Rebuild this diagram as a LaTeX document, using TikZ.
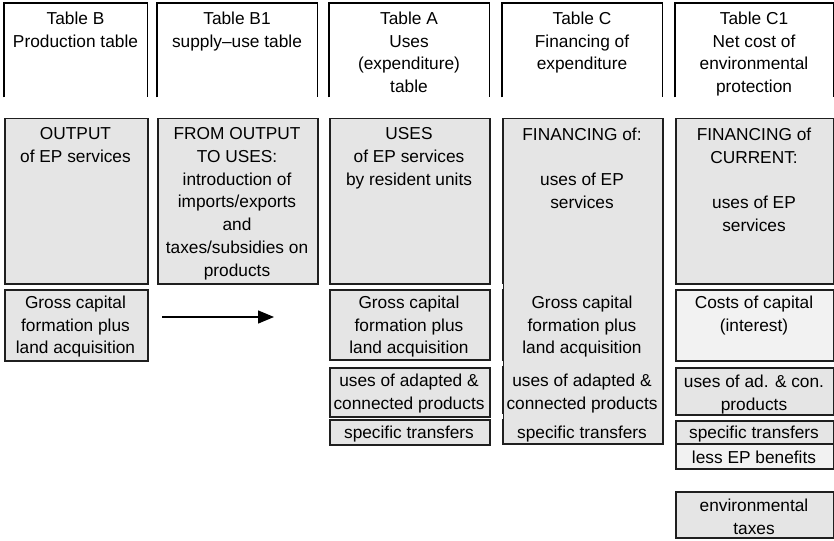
\documentclass[tikz,border=0pt]{standalone}
\usepackage{fontspec}
\setmainfont{Liberation Sans}
\usetikzlibrary{arrows.meta}
\definecolor{boxgrey}{gray}{0.9}
\definecolor{boxlight}{gray}{0.95}
\definecolor{edge}{gray}{0.12}
\begin{document}
\begin{tikzpicture}[x=1pt,y=-1pt,
  txt/.style={inner sep=0pt, anchor=north, align=center,
    font=\fontsize{17.3}{22.7}\selectfont, execute at begin node=\strut},
  hbox/.style={inner sep=0pt, anchor=north west, draw=none},
  hdr/.style={draw=black, line width=1.6pt},
  gbox/.style={inner sep=0pt, anchor=north west, draw=edge, line width=1.5pt, fill=boxgrey},
  lbox/.style={gbox, fill=boxlight},
  flow/.style={-{Triangle[length=16pt,width=13pt]}, line width=1.4pt, draw=black}]
\useasboundingbox (0,0) rectangle (834,540);

% header boxes (open at bottom)
\node[hbox, minimum width=143pt, minimum height=94pt] (h1) at (4,3) {};
\node[hbox, minimum width=160pt, minimum height=94pt] (h2) at (157,3) {};
\node[hbox, minimum width=160pt, minimum height=94pt] (h3) at (329,3) {};
\node[hbox, minimum width=160pt, minimum height=94pt] (h4) at (502,3) {};
\node[hbox, minimum width=158pt, minimum height=94pt] (h5) at (675,3) {};
\foreach \h in {h1,h2,h3,h4,h5}
  \draw[hdr] (\h.south west) |- (\h.north east) -- (\h.south east);

\node[txt] (th1) at (75.5,11.6) {Table B\\Production table};
\node[txt] (th2) at (237,11.6) {Table B1\\supply–use table};
\node[txt] (th3) at (409,11.6) {Table A\\Uses\\(expenditure)\\table};
\node[txt] (th4) at (582,11.6) {Table C\\Financing of\\expenditure};
\node[txt] (th5) at (754,11.6) {Table C1\\Net cost of\\environmental\\protection};

% main boxes
\node[gbox, minimum width=143pt, minimum height=165pt] (m1) at (4,118) {};
\node[gbox, minimum width=160pt, minimum height=165pt] (m2) at (157,118) {};
\node[gbox, minimum width=160pt, minimum height=165pt] (m3) at (329,118) {};
\node[gbox, minimum width=160pt, minimum height=325pt] (m4) at (502,118) {};
\node[gbox, minimum width=158pt, minimum height=165pt] (m5) at (675,118) {};
% small breaks in the left edge of the tall financing box
\draw[white, line width=2.2pt] (502,284) -- (502,289);
\draw[white, line width=2.2pt] (502,361) -- (502,366);
\draw[white, line width=2.2pt] (502,414) -- (502,419);

\node[txt] (tm1) at (75.5,127.6) {OUTPUT\\of EP services};
\node[txt] (tm2) at (237,127.6) {FROM OUTPUT\\TO USES:\\introduction of\\imports/exports\\and\\taxes/subsidies on\\products};
\node[txt] (tm3) at (409,127.6) {USES\\of EP services\\by resident units};
\node[txt] (tm4) at (582,127.6) {FINANCING of:\\[22.7pt]uses of EP\\services};
\node[txt] (tm5) at (754,127.6) {FINANCING of\\CURRENT:\\[22.7pt]uses of EP\\services};

% lower boxes
\node[gbox, minimum width=143pt, minimum height=71pt] (g1) at (4,289) {};
\node[gbox, minimum width=160pt, minimum height=70pt] (g3) at (329,289) {};
\node[gbox, minimum width=160pt, minimum height=49pt] (a3) at (329,367) {};
\node[gbox, minimum width=160pt, minimum height=25pt] (s3) at (329,419) {};
\node[lbox, minimum width=158pt, minimum height=71pt] (k5) at (675,289) {};
\node[gbox, minimum width=158pt, minimum height=47pt] (a5) at (675,367) {};
\node[gbox, minimum width=158pt, minimum height=23pt] (s5) at (675,420) {};
\node[lbox, minimum width=158pt, minimum height=25pt] (l5) at (675,443) {};
\node[gbox, minimum width=158pt, minimum height=46pt] (e5) at (675,491) {};

\node[txt] (tg1) at (75.5,295.6) {Gross capital\\formation plus\\land acquisition};
\node[txt] (tg3) at (409,295.6) {Gross capital\\formation plus\\land acquisition};
\node[txt] (ta3) at (409,373.6) {uses of adapted \&\\connected products};
\node[txt] (ts3) at (409,422.6) {specific transfers};
\node[txt] (tg4) at (582,295.6) {Gross capital\\formation plus\\land acquisition};
\node[txt] (ta4) at (582,373.6) {uses of adapted \&\\connected products};
\node[txt] (ts4) at (582,422.6) {specific transfers};
\node[txt] (tk5) at (754,295.6) {Costs of capital\\(interest)};
\node[txt] (ta5) at (754,374.6) {uses of ad. \& con.\\products};
\node[txt] (ts5) at (754,422.6) {specific transfers};
\node[txt] (tl5) at (754,447.6) {less EP benefits};
\node[txt] (te5) at (754,498.6) {environmental\\taxes};

% arrow from output to uses
\coordinate (arrS) at (162,317);
\coordinate (arrE) at (274,317);
\draw[flow] (arrS) -- (arrE);
\end{tikzpicture}
\end{document}
